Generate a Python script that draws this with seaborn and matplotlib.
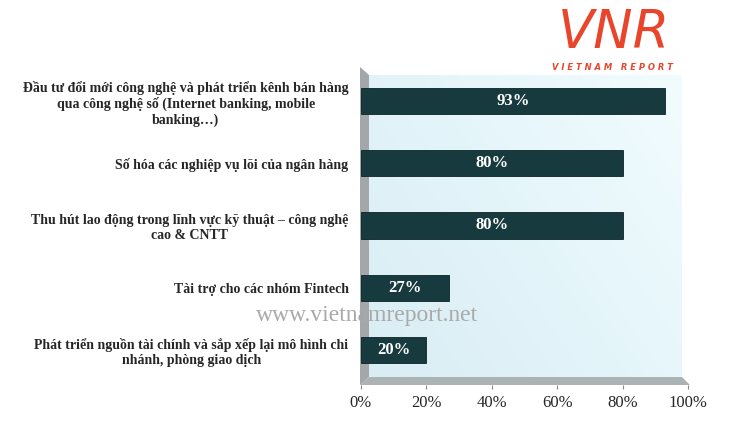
import numpy as np
import pandas as pd
import matplotlib.pyplot as plt
import matplotlib.patches as mpatches
from matplotlib.colors import LinearSegmentedColormap
import seaborn as sns

categories = [
    "Đầu tư đổi mới công nghệ và phát triển kênh bán hàng\nqua công nghệ số (Internet banking, mobile\nbanking…)",
    "Số hóa các nghiệp vụ lõi của ngân hàng",
    "Thu hút lao động trong lĩnh vực kỹ thuật – công nghệ\ncao & CNTT",
    "Tài trợ cho các nhóm Fintech",
    "Phát triển nguồn tài chính và sắp xếp lại mô hình chi\nnhánh, phòng giao dịch",
]
values = [93, 80, 80, 27, 20]
xticks = [0, 20, 40, 60, 80, 100]

df = pd.DataFrame({"cat": categories, "val": values})

sns.set_style("white")
plt.rcParams['font.family'] = ['Liberation Serif', 'DejaVu Serif']

W, H = 731, 441
fig = plt.figure(figsize=(W / 100, H / 100), dpi=100)

def fx(px):
    return px / W

def fy(py):
    return 1 - py / H

# back plane with light gradient (lighter towards top right)
bg = fig.add_axes([fx(369), fy(377), fx(682) - fx(369), fy(75) - fy(377)], zorder=0)
GX, GY = np.meshgrid(np.linspace(0, 1, 200), np.linspace(0, 1, 200))
grad = 0.6 * GX + 0.4 * (1 - GY)
cm = LinearSegmentedColormap.from_list("bgc", ["#d9edf4", "#e4f5fa", "#f2fcfe"])
bg.imshow(grad, cmap=cm, aspect="auto", extent=[0, 1, 0, 1], origin="upper")
bg.axis("off")

# left wall and floor
wall = mpatches.Polygon([(fx(360), fy(67)), (fx(369), fy(75)), (fx(369), fy(377)), (fx(360), fy(385))],
                        closed=True, transform=fig.transFigure, facecolor="#a3a7a9", edgecolor="none", zorder=1)
floor = mpatches.Polygon([(fx(360), fy(385)), (fx(369), fy(377)), (fx(682), fy(377)), (fx(690), fy(385))],
                         closed=True, transform=fig.transFigure, facecolor="#abb3b5", edgecolor="none", zorder=1)
fig.patches.extend([wall, floor])

ax = fig.add_axes([fx(361), fy(385), fx(688) - fx(361), fy(70) - fy(385)], zorder=2)
ax.patch.set_alpha(0)
sns.barplot(data=df, x="val", y="cat", orient="h", color="#173a3e", width=0.42,
            saturation=1, edgecolor="#0d2426", linewidth=0.6, ax=ax)

for i, v in enumerate(values):
    ax.text(v / 2, i, f"{v}%", ha="center", va="center", color="white",
            fontsize=12, fontweight="bold")

ax.set_xlim(0, 100)
ax.set_ylim(4.565, -0.5)
ax.set_xticks(xticks)
ax.set_xticklabels([f"{t}%" for t in xticks], fontsize=12)
ax.tick_params(axis="x", length=3, width=0.8, color="#888888", pad=4, bottom=True)
ax.tick_params(axis="y", length=0, pad=9)
for lab in ax.get_yticklabels():
    lab.set_fontsize(10)
    lab.set_fontweight("bold")
    lab.set_multialignment("center")
ax.set_xlabel("")
ax.set_ylabel("")
sns.despine(ax=ax, left=True, bottom=True)

# watermark
fig.text(fx(367), fy(316), "www.vietnamreport.net", ha="center", va="center",
         fontsize=17, color="#a9a9a9", zorder=5)

# logo
fig.text(fx(614), fy(33), "VNR", ha="center", va="center", fontsize=38,
         color="#e8452c", fontstyle="italic", family="DejaVu Sans", zorder=5)
fig.text(fx(613), fy(68), "V I E T N A M   R E P O R T", ha="center", va="center", fontsize=6,
         color="#e8452c", fontstyle="italic", fontweight="bold", family="DejaVu Sans", zorder=5)

fig.savefig("out.png", dpi=100)
